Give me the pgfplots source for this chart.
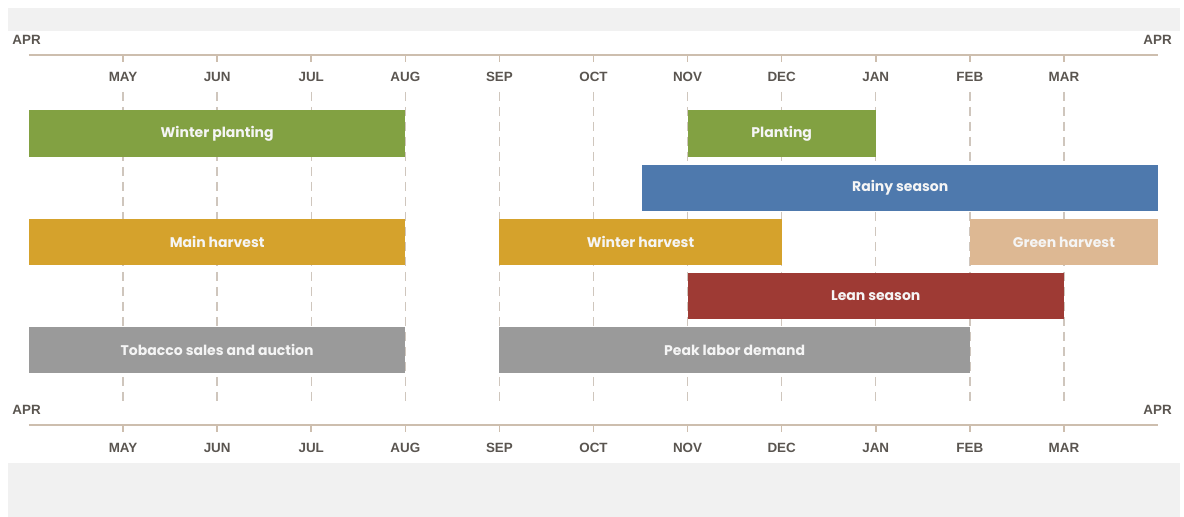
\documentclass[border=0pt]{standalone}
\usepackage{pgfplots}
\pgfplotsset{compat=1.18}
\usepackage{fontspec}
\setmainfont{Liberation Sans}
\newfontfamily\barfont{Poppins}
\definecolor{cgreen}{HTML}{82A142}
\definecolor{cblue}{HTML}{4E79AD}
\definecolor{cgold}{HTML}{D5A22C}
\definecolor{ctan}{HTML}{DDB893}
\definecolor{cred}{HTML}{9E3A34}
\definecolor{cgrey}{HTML}{9A9A9A}
\definecolor{caxis}{HTML}{CDBEAE}
\definecolor{cgrid}{HTML}{CFC6BD}
\definecolor{ctext}{HTML}{5A5550}
\definecolor{cband}{HTML}{F1F1F1}
\tikzset{
  mon/.style={font=\fontsize{6.7}{7}\selectfont\bfseries, text=ctext, inner sep=0pt},
  lab/.style={font=\barfont\fontsize{7}{8}\selectfont\bfseries, text=white!96!black, inner sep=0pt},
  grd/.style={draw=cgrid, line width=0.7pt, dash pattern=on 4.5pt off 3pt},
  axl/.style={draw=caxis, line width=1pt},
  tck/.style={draw=caxis, line width=0.8pt},
}
\begin{document}
\begin{tikzpicture}
\begin{axis}[
  scale only axis, width=592pt, height=258.5pt,
  xmin=-0.3082, xmax=12.2764, ymin=0, ymax=517, y dir=reverse,
  axis lines=none, clip=false,
]
% background
\fill[white] (axis cs:-0.3082,0) rectangle (axis cs:12.2764,517);
\fill[cband] (axis cs:-0.2232,8) rectangle (axis cs:12.2338,31);
\fill[cband] (axis cs:-0.2232,463) rectangle (axis cs:12.2338,517);
% dashed grid
\pgfplotsinvokeforeach{1,...,11}{
  \draw[grd] (axis cs:#1,92) -- (axis cs:#1,401);
  \draw[tck] (axis cs:#1,55) -- (axis cs:#1,62);
  \draw[tck] (axis cs:#1,425) -- (axis cs:#1,432);
}
% axis lines
\draw[axl] (axis cs:0,55) -- (axis cs:12,55);
\draw[axl] (axis cs:0,425) -- (axis cs:12,425);

% bars: (start month, top) ... (end month, bottom); months counted from APR = 0
\addplot[fill=cgreen, draw=none] coordinates {(0,110) (4,110) (4,157) (0,157)} --cycle;
\addplot[fill=cgreen, draw=none] coordinates {(7,110) (9,110) (9,157) (7,157)} --cycle;
\addplot[fill=cblue, draw=none] coordinates {(6.52,165) (12,165) (12,211) (6.52,211)} --cycle;
\addplot[fill=cgold, draw=none] coordinates {(0,219) (4,219) (4,265) (0,265)} --cycle;
\addplot[fill=cgold, draw=none] coordinates {(5,219) (8,219) (8,265) (5,265)} --cycle;
\addplot[fill=ctan, draw=none] coordinates {(10,219) (12,219) (12,265) (10,265)} --cycle;
\addplot[fill=cred, draw=none] coordinates {(7,273) (11,273) (11,319) (7,319)} --cycle;
\addplot[fill=cgrey, draw=none] coordinates {(0,327) (4,327) (4,373) (0,373)} --cycle;
\addplot[fill=cgrey, draw=none] coordinates {(5,327) (10,327) (10,373) (5,373)} --cycle;

% bar labels
\node[lab] at (axis cs:2,133.5) {Winter planting};
\node[lab] at (axis cs:8,133.5) {Planting};
\node[lab] at (axis cs:9.26,188) {Rainy season};
\node[lab] at (axis cs:2,242) {Main harvest};
\node[lab] at (axis cs:6.5,242) {Winter harvest};
\node[lab] at (axis cs:11,242) {Green harvest};
\node[lab] at (axis cs:9,296) {Lean season};
\node[lab] at (axis cs:2,350) {Tobacco sales and auction};
\node[lab] at (axis cs:7.5,350) {Peak labor demand};

% month labels top
\node[mon, anchor=base west] at (axis cs:-0.18,45) {APR};
\node[mon, anchor=base east] at (axis cs:12.15,45) {APR};
\node[mon] at (axis cs:1,77) {MAY};
\node[mon] at (axis cs:2,77) {JUN};
\node[mon] at (axis cs:3,77) {JUL};
\node[mon] at (axis cs:4,77) {AUG};
\node[mon] at (axis cs:5,77) {SEP};
\node[mon] at (axis cs:6,77) {OCT};
\node[mon] at (axis cs:7,77) {NOV};
\node[mon] at (axis cs:8,77) {DEC};
\node[mon] at (axis cs:9,77) {JAN};
\node[mon] at (axis cs:10,77) {FEB};
\node[mon] at (axis cs:11,77) {MAR};
% month labels bottom
\node[mon, anchor=base west] at (axis cs:-0.18,415) {APR};
\node[mon, anchor=base east] at (axis cs:12.15,415) {APR};
\node[mon] at (axis cs:1,448) {MAY};
\node[mon] at (axis cs:2,448) {JUN};
\node[mon] at (axis cs:3,448) {JUL};
\node[mon] at (axis cs:4,448) {AUG};
\node[mon] at (axis cs:5,448) {SEP};
\node[mon] at (axis cs:6,448) {OCT};
\node[mon] at (axis cs:7,448) {NOV};
\node[mon] at (axis cs:8,448) {DEC};
\node[mon] at (axis cs:9,448) {JAN};
\node[mon] at (axis cs:10,448) {FEB};
\node[mon] at (axis cs:11,448) {MAR};
\end{axis}
\end{tikzpicture}
\end{document}
